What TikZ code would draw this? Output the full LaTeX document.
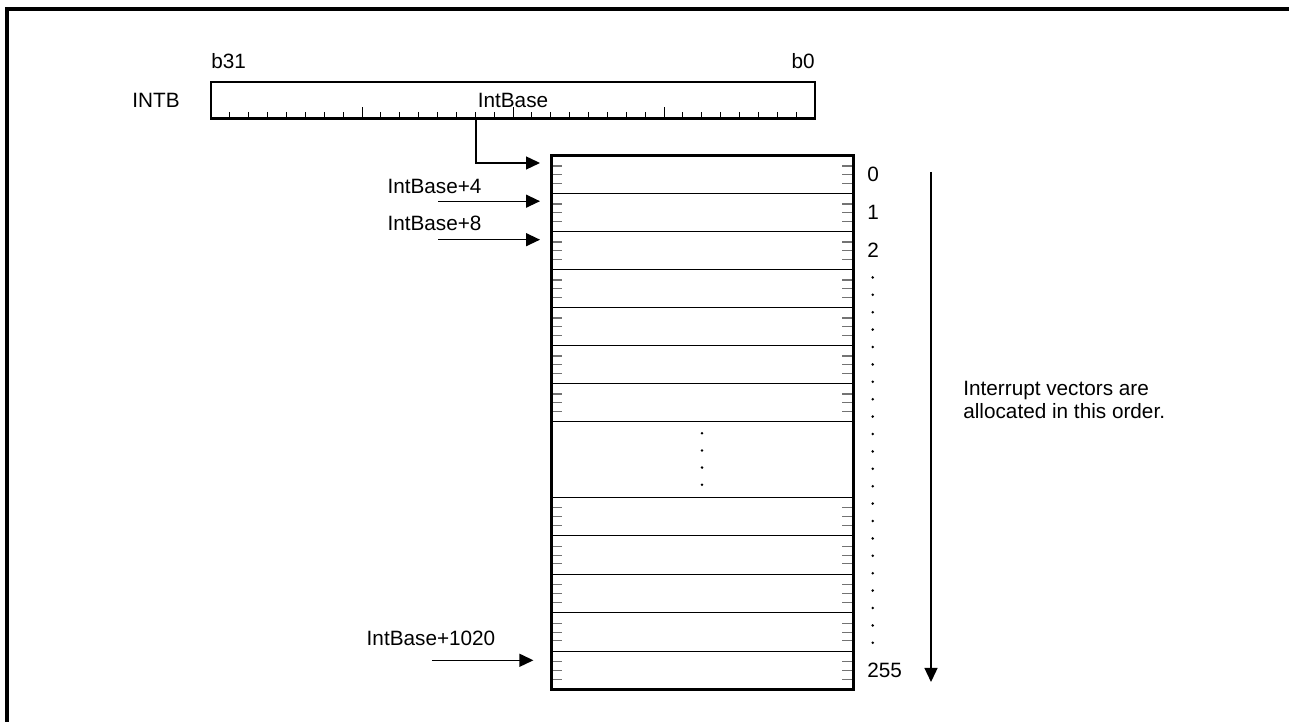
\documentclass[tikz,border=0pt]{standalone}
\usepackage{fontspec}
\setmainfont{Liberation Sans}
\usetikzlibrary{arrows.meta,positioning}
\tikzset{
  vrow/.style={draw,line width=0.8pt,minimum width=6.04cm,minimum height=0.76cm,inner sep=0pt,outer sep=0pt},
  vrowb/.style={vrow,minimum height=0.77cm},
  tickmark/.style={black!55,line width=0.6pt},
  ptr/.style={->,line width=0.75pt},
}
\begin{document}
\begin{tikzpicture}[>={Triangle[length=2.8mm,width=2.6mm]},x=1.0cm,y=1.0cm,font=\fontsize{11.8}{13}\selectfont]
		\useasboundingbox (0,0) rectangle (25.78,14.44);
		\draw[line width=0.08cm] (0.15,0) -- (0.15,14.25) -- (25.78,14.25);
		% register
		\node[draw,line width=1.5pt,minimum width=12.08cm,minimum height=0.73cm,inner sep=0pt,outer sep=0pt] (reg) at (10.26,12.435) {IntBase};
		\foreach \i in {1,...,31}{
			\pgfmathsetmacro\h{ifthenelse(mod(\i,8)==0,0.22,0.12)}
			\draw[line width=0.5pt] ([xshift={\i*0.3775cm}]reg.south west) -- ++(0,\h);
		}
		\node[anchor=base west,inner sep=0pt] (b31) at ([yshift=0.26cm]reg.north west) {b31};
		\node[anchor=base east,inner sep=0pt] (b0) at ([yshift=0.26cm]reg.north east) {b0};
		\node[anchor=east,inner sep=0pt] (intb) at ([xshift=-0.62cm]reg.west) {INTB};
		% vector table
		\foreach \i in {0,...,6}
			\node[vrow] (r\i) at (14.04,{10.946-0.76*\i}) {};
		\foreach \j in {1,...,5}
			\node[vrowb] (s\j) at (14.04,{4.109-0.77*(\j-1)}) {};
		\foreach \r in {r0,r1,r2,r3,r4,r5,r6,s1,s2,s3,s4,s5}
			\foreach \d in {-0.174,0,0.174}{
				\draw[tickmark] ([yshift=\d cm]\r.west) -- ++(0.22,0);
				\draw[tickmark] ([yshift=\d cm]\r.east) -- ++(-0.22,0);
			}
		\draw[line width=1.7pt] (r0.north west) rectangle (s5.south east);
		\foreach \k in {0,...,3}
			\fill (14.04,{5.774-0.343*\k}) circle (0.028);
		% indices
		\node[anchor=west,inner sep=0pt] (n0) at ([xshift=0.28cm]r0.east) {0};
		\node[anchor=west,inner sep=0pt] (n1) at ([xshift=0.28cm]r1.east) {1};
		\node[anchor=west,inner sep=0pt] (n2) at ([xshift=0.28cm]r2.east) {2};
		\node[anchor=west,inner sep=0pt] (n255) at ([xshift=0.28cm]s5.east) {255};
		\foreach \k in {0,...,21}
			\fill (17.454,{8.892-0.348*\k}) circle (0.028);
		% pointers
		\draw[ptr] ([xshift=-0.74cm]reg.south) |- ([xshift=-0.22cm,yshift=0.234cm]r0.west);
		\coordinate (p4) at ([xshift=-2.26cm,yshift=0.23cm]r1.west);
		\draw[ptr] (p4) -- ([xshift=-0.22cm,yshift=0.23cm]r1.west);
		\node[anchor=base] (l4) at (8.69,10.56) {IntBase+4};
		\coordinate (p8) at ([xshift=-2.26cm,yshift=0.22cm]r2.west);
		\draw[ptr] (p8) -- ([xshift=-0.22cm,yshift=0.22cm]r2.west);
		\node[anchor=base] (l8) at (8.69,9.826) {IntBase+8};
		\coordinate (p1020) at ([xshift=-2.384cm,yshift=0.205cm]s5.west);
		\draw[ptr] (p1020) -- ([xshift=-0.352cm,yshift=0.205cm]s5.west);
		\node[anchor=base] (l1020) at (8.62,1.52) {IntBase+1020};
		% order
		\coordinate (otop) at (18.62,11.0);
		\coordinate (obot) at (18.62,0.8);
		\draw[ptr] (otop) -- (obot);
		\node[anchor=west,align=left,inner sep=0pt] (note) at (19.26,6.44) {Interrupt vectors are\\allocated in this order.};
		
		\end{tikzpicture}
\end{document}
